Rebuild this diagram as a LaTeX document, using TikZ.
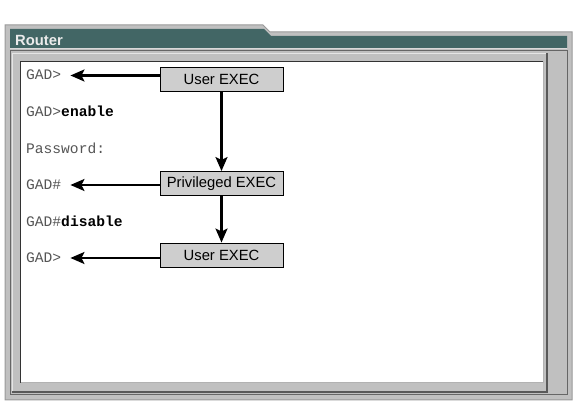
\documentclass[tikz,border=0pt]{standalone}
\usepackage{fontspec}
\setmainfont{Liberation Sans}
\setmonofont{Liberation Mono}
\usetikzlibrary{arrows.meta}
\definecolor{frameteal}{RGB}{66,102,101}
\definecolor{framegray}{RGB}{192,192,192}
\definecolor{boxgray}{RGB}{206,206,206}
\definecolor{promptgray}{RGB}{85,85,85}

\tikzset{
  modebox/.style={draw=black, line width=0.9pt, fill=boxgray, minimum width=123pt,
                  minimum height=24pt, inner sep=0pt, font=\fontsize{14.8}{16}\selectfont},
  cliline/.style={anchor=west, inner sep=0pt, text height=8.5pt, text depth=0pt,
                  text=promptgray, font=\fontsize{14.6}{16}\selectfont\ttfamily},
  modearrow/.style={line width=2.2pt, -{Stealth[length=14pt, width=12pt, inset=3pt]}},
  promptarrow/.style={modearrow, shorten >=9pt},
}

\begin{document}
\begin{tikzpicture}[x=1pt, y=-1pt]
    \useasboundingbox (0,0) rectangle (582,403);

    % Outer frame with tab
    \draw[fill=framegray, draw=black!40, line width=1pt]
        (5,25) -- (263,25) -- (270,32) -- (572,32) -- (572,400) -- (5,400) -- cycle;

    % Title bar
    \fill[frameteal] (10,29) -- (264,29) -- (271,36) -- (567,36) -- (567,48) -- (10,48) -- cycle;
    \draw[white!85!black, line width=1pt] (10,49) -- (567,49);
    \node[anchor=west, inner sep=0pt, text=white!92!black,
          font=\fontsize{14.8}{16}\selectfont\bfseries] (title) at (15,40) {Router};

    % Sunken area and raised panel
    \draw[black!60, line width=1pt] (10,51) rectangle (567,395);
    \fill[framegray] (12,53) rectangle (547,392);
    \draw[white!90!black, line width=1pt] (12.5,392) -- (12.5,53.5) -- (547,53.5);
    \draw[black!65, line width=1.2pt] (12,392) -- (547,392) -- (547,53);

    % Console area
    \fill[white] (20,61) rectangle (543,383);
    \draw[black!80, line width=1pt] (20.5,383) -- (20.5,61.5) -- (543,61.5);
    \draw[black!30, line width=1pt] (20.5,383) -- (543,383) -- (543,61.5);

    % Console lines
    \node[cliline] (gad1) at (26,75.5) {GAD>};
    \node[cliline] (enable) at (26,112.5) {GAD>\textcolor{black}{\bfseries enable}};
    \node[cliline] (pass) at (26,149.5) {Password:};
    \node[cliline] (gad2) at (26,185) {GAD\#};
    \node[cliline] (disable) at (26,222.5) {GAD\#\textcolor{black}{\bfseries disable}};
    \node[cliline] (gad3) at (26,258) {GAD>};

    % Modes
    \node[modebox] (user1) at (221.5,79.5) {User EXEC};
    \node[modebox] (priv) at (221.5,183.5) {Privileged EXEC};
    \node[modebox] (user2) at (221.5,255) {User EXEC};

    \draw[promptarrow] (user1.west |- gad1) -- (gad1.east);
    \draw[promptarrow] (priv.west |- gad2) -- (gad2.east);
    \draw[promptarrow] (user2.west |- gad3) -- (gad3.east);
    \draw[modearrow] (user1) -- (priv);
    \draw[modearrow] (priv) -- (user2);
\end{tikzpicture}
\end{document}
